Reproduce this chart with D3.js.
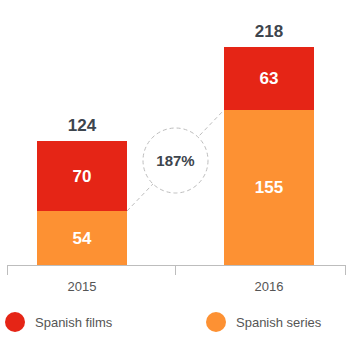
<!DOCTYPE html>
<html><head><meta charset="utf-8">
<script src="https://cdn.jsdelivr.net/npm/d3@7"></script>
<style>body{margin:0;background:#fff}svg{display:block;font-family:Arial,"Liberation Sans",Helvetica,sans-serif}</style>
</head><body><svg id="c" width="352" height="338"></svg>
<script>
const years = ["2015", "2016"];
const films = [70, 63];
const series = [54, 155];
const growthLabel = "187%";
const legendLabels = ["Spanish films", "Spanish series"];
const colors = {films: "#e52516", series: "#fd9133"};

const svg = d3.select("#c");
const x = d3.scalePoint().domain(years).range([82, 269]);
const barW = 90;
const y = d3.scaleLinear().domain([0, 265]).range([265, 0]);

const data = years.map((yr, i) => ({yr, series: series[i], films: films[i], total: series[i] + films[i]}));
const cx = d => x(d.yr);

// dashed connector
const p1 = [cx(data[0]) + barW / 2, y(data[0].series)];
const p2 = [cx(data[1]) - barW / 2, y(data[1].series)];
const mid = [(p1[0] + p2[0]) / 2, (p1[1] + p2[1]) / 2];
const r = 32.5;

svg.append("line").attr("x1", p1[0]).attr("y1", p1[1]).attr("x2", p2[0]).attr("y2", p2[1])
  .attr("stroke", "#bdbdbd").attr("stroke-width", 1).attr("stroke-dasharray", "4,3");

const g = svg.append("g");
g.selectAll(".s").data(data).join("rect")
  .attr("x", d => cx(d) - barW / 2).attr("width", barW)
  .attr("y", d => y(d.series)).attr("height", d => y(0) - y(d.series))
  .attr("fill", colors.series);
g.selectAll(".f").data(data).join("rect")
  .attr("x", d => cx(d) - barW / 2).attr("width", barW)
  .attr("y", d => y(d.total)).attr("height", d => y(d.series) - y(d.total))
  .attr("fill", colors.films);

// circle
svg.append("circle").attr("cx", mid[0]).attr("cy", mid[1]).attr("r", r)
  .attr("fill", "#fff").attr("stroke", "#bdbdbd").attr("stroke-width", 1).attr("stroke-dasharray", "4,3");
svg.append("text").attr("x", mid[0]).attr("y", mid[1]).attr("dy", "0.35em")
  .attr("text-anchor", "middle").attr("font-size", 15).attr("font-weight", "bold").attr("fill", "#3d454d")
  .text(growthLabel);

// value labels
const lab = svg.append("g").attr("text-anchor", "middle").attr("font-weight", "bold").attr("font-size", 17);
lab.selectAll(".sv").data(data).join("text")
  .attr("x", cx).attr("y", d => (y(0) + y(d.series)) / 2).attr("dy", "0.35em").attr("fill", "#fff")
  .text(d => d.series);
lab.selectAll(".fv").data(data).join("text")
  .attr("x", cx).attr("y", d => (y(d.series) + y(d.total)) / 2).attr("dy", "0.35em").attr("fill", "#fff")
  .text(d => d.films);
lab.selectAll(".tv").data(data).join("text")
  .attr("x", cx).attr("y", d => y(d.total) - 16).attr("dy", "0.35em").attr("fill", "#3d454d")
  .text(d => d.total);

// axis
const ax = svg.append("g").attr("stroke", "#bdbdbd").attr("stroke-width", 1);
ax.append("line").attr("x1", 7).attr("x2", 345).attr("y1", 265.5).attr("y2", 265.5);
[7, 175, 345].forEach(t => {
  ax.append("line").attr("x1", t + 0.5).attr("x2", t + 0.5).attr("y1", 265).attr("y2", 275);
});
svg.append("g").selectAll("text").data(data).join("text")
  .attr("x", cx).attr("y", 286).attr("dy", "0.35em").attr("text-anchor", "middle")
  .attr("font-size", 13).attr("fill", "#555").text(d => d.yr);

// legend
const leg = [{label: legendLabels[0], c: colors.films, x: 15}, {label: legendLabels[1], c: colors.series, x: 216}];
const lg = svg.append("g").selectAll("g").data(leg).join("g").attr("transform", d => `translate(${d.x},322)`);
lg.append("circle").attr("r", 10).attr("fill", d => d.c);
lg.append("text").attr("x", 20).attr("dy", "0.35em").attr("font-size", 13).attr("fill", "#555").text(d => d.label);
</script></body></html>
